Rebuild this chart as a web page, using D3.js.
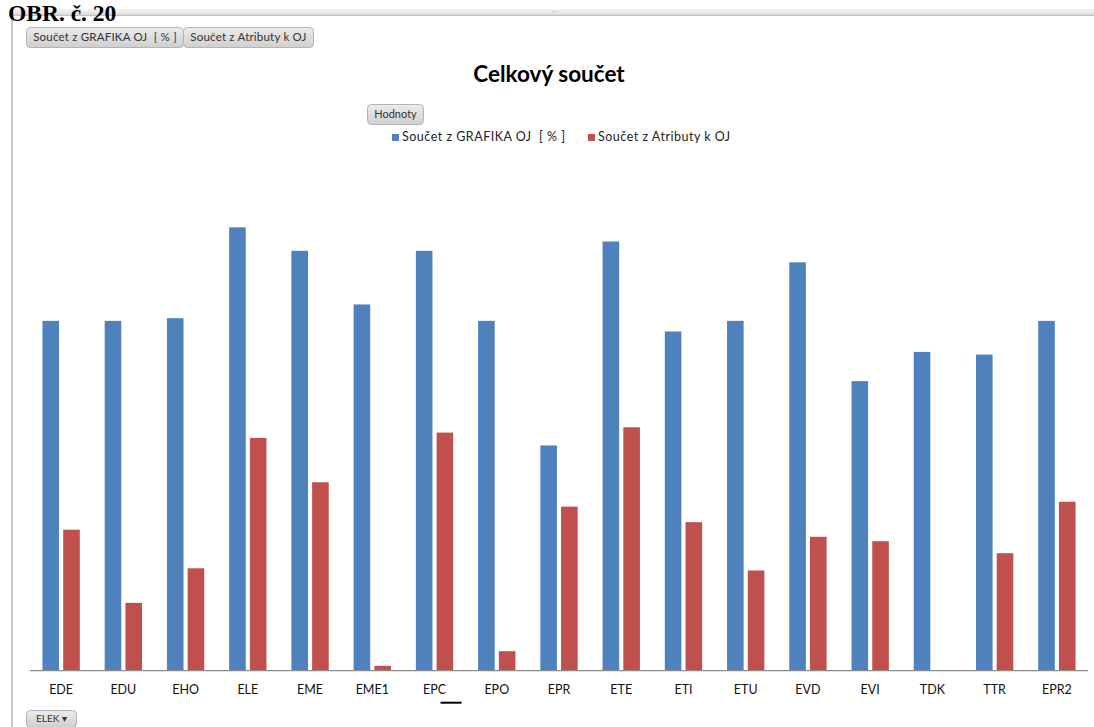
<!DOCTYPE html>
<html>
<head>
<meta charset="utf-8">
<script src="https://cdn.jsdelivr.net/npm/d3@7"></script>
<style>
  html, body { margin: 0; padding: 0; background: #ffffff; }
  svg { display: block; }
</style>
</head>
<body>
<svg id="chart" width="1094" height="727"></svg>
<script>
// Pivot chart data: two value fields per organisational unit (OJ)
const categories = ["EDE", "EDU", "EHO", "ELE", "EME", "EME1", "EPC", "EPO", "EPR",
                    "ETE", "ETI", "ETU", "EVD", "EVI", "TDK", "TTR", "EPR2"];
const seriesNames = ["Součet z GRAFIKA OJ  [ % ]", "Součet z Atributy k OJ"];
const grafikaValues = [78.9, 78.9, 79.5, 100, 94.7, 82.6, 94.7, 78.9, 50.8,
                       96.8, 76.5, 78.9, 92.1, 65.3, 71.9, 71.3, 78.9];
const atributyValues = [31.8, 15.3, 23.1, 52.5, 42.5, 1.1, 53.7, 4.4, 37.0,
                        54.9, 33.5, 22.6, 30.2, 29.2, null, 26.5, 38.1];
const colors = ["#4F81BD", "#C0504D"];

const svg = d3.select("#chart");
const W = 1094, H = 727;
const font = "Lato, 'Open Sans', sans-serif";
const defs = svg.append("defs");

// ----- window chrome around the chart -----
const topBar = defs.append("linearGradient")
  .attr("id", "topbar").attr("x1", 0).attr("x2", 0).attr("y1", 0).attr("y2", 1);
topBar.append("stop").attr("offset", "0%").attr("stop-color", "#f4f4f4");
topBar.append("stop").attr("offset", "70%").attr("stop-color", "#e2e2e2");
topBar.append("stop").attr("offset", "100%").attr("stop-color", "#b9b9b9");
svg.append("rect").attr("x", 12).attr("y", 9).attr("width", W - 12).attr("height", 7)
  .attr("fill", "url(#topbar)");
svg.append("rect").attr("x", 11).attr("y", 14).attr("width", 2).attr("height", H - 14)
  .attr("fill", "#c9c9c9");
svg.append("text").attr("x", 555).attr("y", 12).attr("text-anchor", "middle")
  .attr("font-size", 7).attr("fill", "#aaa").attr("font-family", font).text("....");

// figure caption above the frame
svg.append("text")
  .attr("x", 8).attr("y", 21)
  .attr("font-family", "'Liberation Serif', 'DejaVu Serif', serif")
  .attr("font-weight", "bold").attr("font-size", 23.5)
  .attr("fill", "#000")
  .text("OBR. č. 20");

// Field buttons (pivot chart UI)
const btnGrad = defs.append("linearGradient")
  .attr("id", "btn").attr("x1", 0).attr("x2", 0).attr("y1", 0).attr("y2", 1);
btnGrad.append("stop").attr("offset", "0%").attr("stop-color", "#ececec");
btnGrad.append("stop").attr("offset", "100%").attr("stop-color", "#cfcfcf");

function button(x, y, w, h, label, size, spacing) {
  svg.append("rect").attr("x", x).attr("y", y).attr("width", w).attr("height", h)
    .attr("rx", 4).attr("fill", "url(#btn)").attr("stroke", "#b3b3b3");
  svg.append("text").attr("x", x + w / 2).attr("y", y + h / 2 + 0.5)
    .attr("text-anchor", "middle").attr("dominant-baseline", "middle")
    .attr("font-family", font).attr("font-size", size).attr("fill", "#333")
    .attr("letter-spacing", spacing || 0)
    .attr("xml:space", "preserve")
    .text(label);
}
button(26.5, 27.5, 157, 20, seriesNames[0], 11.5, 0.2);
button(183.5, 27.5, 130, 20, seriesNames[1], 11.5, 0.2);
button(367.5, 104.5, 56, 20, "Hodnoty", 11, 0);
button(26.5, 710.5, 50, 17, "ELEK ▾", 10, 0);

// ----- title and legend -----
svg.append("text").attr("x", 549).attr("y", 82).attr("text-anchor", "middle")
  .attr("font-family", font).attr("font-weight", "bold").attr("font-size", 22.5)
  .attr("fill", "#000").text("Celkový součet");

const legendItems = [{x: 392, name: seriesNames[0]}, {x: 588, name: seriesNames[1]}];
legendItems.forEach((d, i) => {
  svg.append("rect").attr("x", d.x).attr("y", 134).attr("width", 7).attr("height", 7)
    .attr("fill", colors[i]);
  svg.append("text").attr("x", d.x + 10).attr("y", 138).attr("dominant-baseline", "middle")
    .attr("font-family", font).attr("font-size", 12.5).attr("fill", "#222")
    .attr("letter-spacing", 0.5)
    .attr("xml:space", "preserve")
    .text(d.name);
});

// ----- plot -----
const plot = {left: 30, right: 1088, top: 227.3, bottom: 670.7};

const x0 = d3.scaleBand().domain(categories)
  .range([plot.left, plot.right]).paddingInner(0.4).paddingOuter(0.2);
const x1 = d3.scaleBand().domain([0, 1])
  .range([0, x0.bandwidth()]).paddingInner(0.2);
const y = d3.scaleLinear().domain([0, 100]).range([plot.bottom, plot.top]);

const rows = categories.map((c, i) => ({cat: c, vals: [grafikaValues[i], atributyValues[i]]}));

const groups = svg.append("g").selectAll("g").data(rows).join("g")
  .attr("transform", d => `translate(${x0(d.cat)},0)`);
groups.selectAll("rect")
  .data(d => d.vals.map((v, s) => ({v, s})).filter(e => e.v != null))
  .join("rect")
  .attr("x", e => x1(e.s))
  .attr("width", x1.bandwidth())
  .attr("y", e => y(e.v))
  .attr("height", e => y(0) - y(e.v))
  .attr("fill", e => colors[e.s]);

// category axis
const xAxis = svg.append("g").attr("transform", `translate(0,${plot.bottom})`)
  .call(d3.axisBottom(x0).tickSize(0).tickPadding(14));
xAxis.select(".domain").attr("stroke", "#8c8c8c").attr("stroke-width", 1.2)
  .attr("d", `M${plot.left},0H${plot.right}`);
xAxis.selectAll("text").attr("font-family", font).attr("font-size", 12.5).attr("fill", "#111");

// text cursor under the EPC label
const epcX = x0("EPC") + x0.bandwidth() / 2;
svg.append("line").attr("x1", epcX + 6).attr("x2", epcX + 27)
  .attr("y1", plot.bottom + 32).attr("y2", plot.bottom + 32)
  .attr("stroke", "#000").attr("stroke-width", 2);
</script>
</body>
</html>
